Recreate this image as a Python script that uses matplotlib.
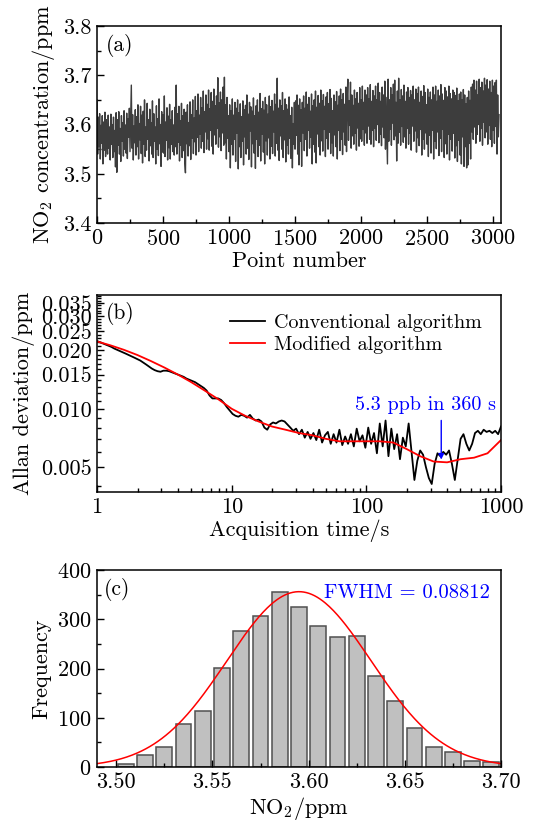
import matplotlib
matplotlib.use('Agg')
import matplotlib.pyplot as plt
import numpy as np
from matplotlib.ticker import MultipleLocator, FixedLocator, NullFormatter, LogLocator

plt.rcParams['font.family'] = 'serif'
plt.rcParams['font.serif'] = ['cmr10']
plt.rcParams['mathtext.fontset'] = 'cm'
plt.rcParams['axes.formatter.use_mathtext'] = True
plt.rcParams['font.size'] = 16

# --- (a) NO2 record, every 5th point, in 0.001 ppm above 3.5 ppm ---
step_a = 5
block1 = [150, 40, 115, 55, 122, 30, 98, 62, 118, 20,
          105, 48, 125, 35, 110, 70, 40, 119, 52, 95,
          28, 121, 60, 100, 33, 115, 45, 88, 14, 124,
          3, 110, 58, 126, 40, 92, 25, 118, 66, 104,
          36, 128, 50, 99, 42, 123, 31, 112, 74, 133,
          45, 108, 180, 52, 120, 28, 97, 63, 130, 38,
          116, 55, 140, 30, 102, 69, 137, 41, 119, 22,
          127, 60, 150, 35, 95, 48, 143, 70, 110, 26,
          131, 57, 104, 40, 148, 33, 122, 66, 95, 20,
          138, 50, 112, 37, 152, 61, 100, 15, 126, 44]
block2 = [120, 42, 158, 35, 105, 68, 134, 28, 117, 53,
          141, 30, 110, 60, 128, 45, 99, 38, 135, 55,
          180, 40, 122, 64, 137, 26, 108, 58, 143, 33,
          118, 47, 131, 22, 2, 125, 61, 140, 36, 104,
          57, 146, 29, 120, 72, 150, 41, 113, 65, 157,
          38, 128, 74, 162, 45, 119, 80, 155, 52, 134,
          66, 168, 43, 126, 85, 160, 50, 141, 71, 170,
          48, 132, 88, 165, 56, 147, 40, 172, 79, 138,
          60, 158, 92, 195, 54, 144, 75, 166, 47, 150,
          83, 176, 58, 196, 63, 140, 30, 155, 72, 118]
block3 = [45, 140, 12, 128, 60, 152, 38, 119, 70, 145,
          25, 133, 82, 150, 10, 124, 55, 142, 33, 116,
          66, 148, 18, 130, 75, 139, 40, 160, 52, 121,
          29, 145, 87, 136, 14, 127, 61, 154, 42, 118,
          11, 138, 70, 150, 35, 125, 58, 163, 26, 132,
          80, 147, 44, 129, 20, 155, 67, 140, 38, 121,
          73, 158, 30, 136, 56, 149, 41, 127, 85, 162,
          36, 141, 62, 194, 48, 133, 27, 150, 77, 138,
          50, 165, 33, 128, 69, 152, 24, 140, 58, 131,
          40, 156, 72, 118, 31, 135, 12, 102, 60, 145]
block4 = [50, 148, 78, 160, 40, 139, 18, 152, 66, 130,
          15, 145, 83, 158, 47, 133, 70, 166, 36, 141,
          88, 155, 52, 127, 74, 162, 20, 138, 60, 150,
          44, 168, 22, 135, 81, 159, 55, 143, 38, 170,
          67, 148, 46, 161, 90, 137, 35, 156, 72, 165,
          50, 142, 84, 171, 41, 153, 63, 128, 36, 160,
          79, 146, 55, 167, 30, 139, 88, 158, 47, 172,
          70, 150, 39, 163, 85, 141, 58, 176, 45, 155,
          192, 68, 148, 98, 186, 52, 160, 77, 139, 60,
          170, 82, 152, 48, 165, 93, 143, 56, 175, 71]
block5 = [150, 66, 178, 90, 145, 58, 170, 83, 160, 62,
          175, 97, 152, 70, 181, 60, 147, 88, 169, 55,
          158, 92, 178, 68, 150, 100, 184, 63, 165, 80,
          147, 57, 176, 95, 160, 73, 188, 50, 155, 85,
          20, 192, 66, 150, 90, 175, 58, 160, 103, 182,
          69, 190, 77, 145, 26, 168, 62, 194, 84, 150,
          58, 171, 96, 158, 64, 180, 75, 147, 52, 166,
          92, 175, 60, 155, 82, 169, 48, 160, 97, 178,
          66, 150, 87, 172, 44, 163, 73, 176, 57, 145,
          90, 168, 38, 157, 70, 179, 50, 165, 83, 140]
block6 = [60, 172, 35, 155, 78, 166, 42, 150, 88, 176,
          30, 160, 66, 178, 51, 147, 85, 170, 37, 158,
          72, 181, 45, 162, 90, 149, 33, 175, 61, 168,
          40, 156, 80, 178, 28, 163, 70, 152, 46, 170,
          82, 165, 32, 159, 57, 174, 25, 148, 68, 162,
          38, 166, 20, 150, 75, 171, 15, 160, 55, 142,
          12, 155, 18, 168, 62, 149, 30, 176, 85, 182,
          70, 190, 95, 170, 62, 188, 80, 160, 100, 192,
          66, 175, 92, 186, 58, 168, 105, 194, 73, 180,
          85, 191, 60, 172, 98, 188, 70, 165, 55, 190,
          88, 178, 62, 185, 96, 190, 40, 160, 75, 120]

# --- (b) Allan deviation (ppm) ---
adev_conv = [0.0223, 0.0220, 0.0217, 0.0214, 0.0211, 0.0208, 0.0204, 0.0201, 0.0198, 0.0195,
             0.0192, 0.0189, 0.0186, 0.0183, 0.0180, 0.0177, 0.0173, 0.0169, 0.0165, 0.0161,
             0.0158, 0.0156, 0.0155, 0.0157, 0.0157, 0.0156, 0.0154, 0.0152, 0.0150, 0.0148,
             0.0146, 0.0143, 0.0141, 0.0139, 0.0137, 0.0134, 0.0131, 0.0128, 0.0124, 0.0117,
             0.0113, 0.0113, 0.0113, 0.0111, 0.0107, 0.0102, 0.0098, 0.0094, 0.0092, 0.0091,
             0.0093, 0.0092, 0.0090, 0.0093, 0.0089, 0.0087, 0.0088, 0.0086, 0.0080, 0.0078,
             0.0083, 0.0085, 0.0084, 0.0086, 0.0087, 0.0086, 0.0083, 0.0080, 0.0077, 0.0079,
             0.0074, 0.0078, 0.0071, 0.0076, 0.0070, 0.0075, 0.0069, 0.0078, 0.0067, 0.0073,
             0.0076, 0.0066, 0.0074, 0.0067, 0.0078, 0.0065, 0.0072, 0.0066, 0.0074, 0.0064,
             0.0079, 0.0068, 0.0073, 0.0063, 0.0080, 0.0066, 0.0075, 0.0059, 0.0084, 0.0064,
             0.0087, 0.0057, 0.0079, 0.0062, 0.0074, 0.0055, 0.0071, 0.0064, 0.0084, 0.0060,
             0.0043, 0.0054, 0.0061, 0.0058, 0.0050, 0.0044, 0.0041, 0.0052, 0.0059, 0.0057,
             0.0060, 0.0058, 0.0061, 0.0052, 0.0043, 0.0055, 0.0070, 0.0074, 0.0066, 0.0061,
             0.0066, 0.0075, 0.0077, 0.0074, 0.0078, 0.0076, 0.0077, 0.0075, 0.0077, 0.0074,
             0.0081]
adev_mod = [0.0222, 0.0212, 0.0201, 0.0189, 0.0176, 0.0163, 0.0150, 0.0137, 0.0124, 0.0112,
            0.0100, 0.0092, 0.0086, 0.0081, 0.0078, 0.0075, 0.0073, 0.0070, 0.0068, 0.0068,
            0.0068, 0.0068, 0.0067, 0.0062, 0.0057, 0.00535, 0.0053, 0.0055, 0.0056, 0.0059,
            0.0069]
best_tau = 360
best_dev = 0.0053

# --- (c) histogram of (a) ---
bin_left = 3.50
bin_width = 0.01
counts = [7, 25, 40, 87, 113, 201, 277, 306, 356, 325,
          287, 263, 266, 184, 134, 80, 40, 31, 12, 10]
fit_center = 3.595
fit_height = 356
fwhm = 0.08812

fig = plt.figure(figsize=(5.38, 8.23), dpi=100)
ax1 = fig.add_axes([0.1803, 0.729, 0.7509, 0.2394])
ax2 = fig.add_axes([0.1803, 0.4022, 0.7509, 0.2394])
ax3 = fig.add_axes([0.1803, 0.068, 0.7509, 0.2394])

for ax in (ax1, ax2, ax3):
    ax.tick_params(which='both', direction='in', top=False, right=False, labelsize=16, pad=4)
    ax.tick_params(which='major', length=5, width=1)
    ax.tick_params(which='minor', length=3, width=1)
    for sp in ax.spines.values():
        sp.set_linewidth(1.1)

# (a)
conc = 3.5 + np.array(block1 + block2 + block3 + block4 + block5 + block6) / 1000.0
points = np.arange(len(conc)) * step_a
ax1.plot(points, conc, color='#3d3d3d', lw=1.0)
ax1.set_xlim(0, 3060)
ax1.set_ylim(3.4, 3.8)
ax1.xaxis.set_major_locator(MultipleLocator(500))
ax1.xaxis.set_minor_locator(MultipleLocator(250))
ax1.yaxis.set_major_locator(MultipleLocator(0.1))
ax1.yaxis.set_minor_locator(MultipleLocator(0.05))
ax1.yaxis.set_major_formatter(matplotlib.ticker.FormatStrFormatter('%.1f'))
ax1.set_xlabel('Point number', fontsize=16, labelpad=2)
ax1.set_ylabel('NO$_2$ concentration/ppm', fontsize=16, labelpad=4)
ax1.text(0.022, 0.90, '(a)', transform=ax1.transAxes, ha='left', va='center', fontsize=15.5)

# (b)
tau_conv = np.logspace(0, 3, len(adev_conv))
tau_mod = np.logspace(0, 3, len(adev_mod))
ax2.plot(tau_conv, adev_conv, color='black', lw=1.3, label='Conventional algorithm')
ax2.plot(tau_mod, adev_mod, color='red', lw=1.3, label='Modified algorithm')
ax2.set_xscale('log')
ax2.set_yscale('log')
ax2.set_xlim(1, 1000)
ax2.set_ylim(0.00373, 0.0385)
ax2.xaxis.set_major_locator(FixedLocator([1, 10, 100, 1000]))
ax2.xaxis.set_major_formatter(matplotlib.ticker.FixedFormatter(['1', '10', '100', '1000']))
ax2.xaxis.set_minor_locator(LogLocator(base=10, subs=np.arange(2, 10)))
ax2.xaxis.set_minor_formatter(NullFormatter())
yt = [0.005, 0.010, 0.015, 0.020, 0.025, 0.030, 0.035]
ax2.yaxis.set_major_locator(FixedLocator(yt))
ax2.yaxis.set_major_formatter(matplotlib.ticker.FixedFormatter(['%.3f' % v for v in yt]))
ax2.yaxis.set_minor_locator(FixedLocator(np.arange(0.004, 0.0385, 0.001)))
ax2.yaxis.set_minor_formatter(NullFormatter())
ax2.set_xlabel('Acquisition time/s', fontsize=16, labelpad=2)
ax2.set_ylabel('Allan deviation/ppm', fontsize=16, labelpad=4)
ax2.text(0.022, 0.907, '(b)', transform=ax2.transAxes, ha='left', va='center', fontsize=15.5)
ax2.legend(loc='upper right', frameon=False, fontsize=14.5, handlelength=1.75,
           handletextpad=0.45, borderaxespad=0.55, labelspacing=0.2)
ax2.annotate('', xy=(best_tau, best_dev), xytext=(best_tau, 0.0090),
             arrowprops=dict(arrowstyle='-|>', color='blue', lw=1.0, mutation_scale=8))
ax2.text(277, 0.0104, '%.1f ppb in %d s' % (best_dev * 1000, best_tau), color='blue',
         ha='center', va='center', fontsize=14.5)

# (c)
centers = bin_left + bin_width / 2 + np.arange(len(counts)) * bin_width
ax3.bar(centers, counts, width=0.0082, color='#c0c0c0', edgecolor='#505050', lw=1.1)
sigma = fwhm / (2 * np.sqrt(2 * np.log(2)))
xf = np.linspace(3.49, 3.70, 300)
ax3.plot(xf, fit_height * np.exp(-0.5 * ((xf - fit_center) / sigma) ** 2), color='red', lw=1.1)
ax3.set_xlim(3.49, 3.70)
ax3.set_ylim(0, 400)
ax3.xaxis.set_major_locator(MultipleLocator(0.05))
ax3.xaxis.set_minor_locator(MultipleLocator(0.025))
ax3.xaxis.set_major_formatter(matplotlib.ticker.FormatStrFormatter('%.2f'))
ax3.yaxis.set_major_locator(MultipleLocator(100))
ax3.yaxis.set_minor_locator(MultipleLocator(50))
ax3.set_xlabel('NO$_2$/ppm', fontsize=16, labelpad=2)
ax3.set_ylabel('Frequency', fontsize=16, labelpad=4)
ax3.text(0.018, 0.90, '(c)', transform=ax3.transAxes, ha='left', va='center', fontsize=15.5)
ax3.text(0.973, 0.885, 'FWHM = %.5f' % fwhm, transform=ax3.transAxes, color='blue',
         ha='right', va='center', fontsize=14.8)

fig.savefig('out.png', dpi=100)
